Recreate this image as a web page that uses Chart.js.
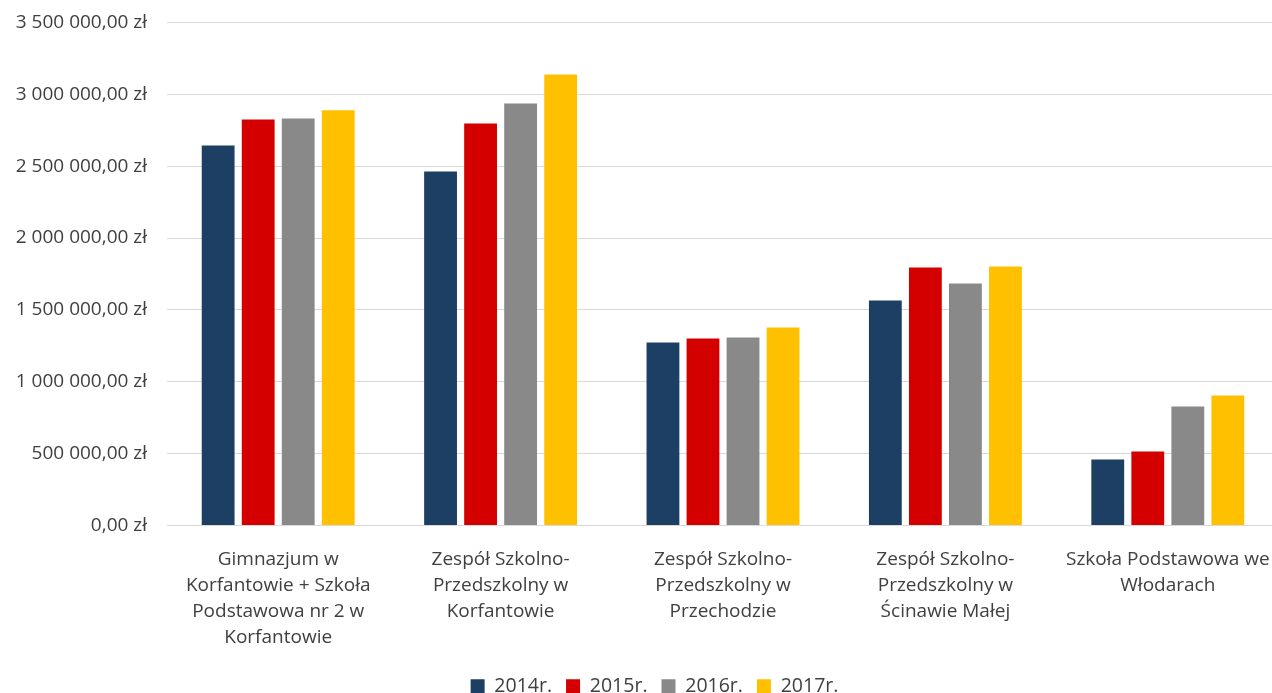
<!DOCTYPE html>
<html>
<head>
<meta charset="utf-8">
<script src="https://cdn.jsdelivr.net/npm/chart.js@4/dist/chart.umd.min.js"></script>
<style>
    html, body { margin: 0; padding: 0; background: #fff; overflow: hidden; }
    #wrap { width: 1308px; height: 715px; margin-top: -9px; position: relative; }
</style>
</head>
<body>
<div id="wrap"><canvas id="budgetChart"></canvas></div>
<script>
    // Dane
    const categories = [
        ['Gimnazjum w', 'Korfantowie + Szkoła', 'Podstawowa nr 2 w', 'Korfantowie'],
        ['Zespół Szkolno-', 'Przedszkolny w', 'Korfantowie'],
        ['Zespół Szkolno-', 'Przedszkolny w', 'Przechodzie'],
        ['Zespół Szkolno-', 'Przedszkolny w', 'Ścinawie Małej'],
        ['Szkoła Podstawowa we', 'Włodarach']
    ];
    const years = ['2014r.', '2015r.', '2016r.', '2017r.'];
    const values2014 = [2644000, 2463000, 1273000, 1566000, 459000];
    const values2015 = [2825000, 2797000, 1301000, 1795000, 515000];
    const values2016 = [2832000, 2936000, 1308000, 1684000, 828000];
    const values2017 = [2888000, 3138000, 1378000, 1802000, 905000];
    const colors = ['#1d3f63', '#d40000', '#898989', '#ffc000'];

    function formatZl(v) {
        let s = Math.round(v).toString().replace(/\B(?=(\d{3})+(?!\d))/g, ' ');
        return s + ',00 zł';
    }

    const textColor = '#404040';
    const fontFamily = '"Open Sans", sans-serif';

    // legenda wycentrowana na całej szerokości wykresu (jak w Excelu)
    const shiftLegend = {
        id: 'shiftLegend',
        afterLayout(chart) {
            chart.legend.left += 15;
            chart.legend.right += 15;
        }
    };

    let ctx = document.getElementById('budgetChart');

    let budgetChart = new Chart(ctx, {
        type: 'bar',
        data: {
            labels: categories,
            datasets: [values2014, values2015, values2016, values2017].map((vals, i) => ({
                label: years[i],
                data: vals,
                backgroundColor: colors[i],
                categoryPercentage: 0.72,
                barPercentage: 0.82
            }))
        },
        options: {
            responsive: true,
            maintainAspectRatio: false,
            animation: false,
            layout: {
                padding: { top: 0, right: 29, left: 0, bottom: 0 }
            },
            plugins: {
                tooltip: { enabled: false },
                legend: {
                    position: 'bottom',
                    labels: {
                        boxWidth: 14,
                        boxHeight: 14,
                        padding: 14,
                        color: textColor,
                        font: { family: fontFamily, size: 19.5 }
                    }
                }
            },
            scales: {
                x: {
                    grid: { display: false },
                    border: { display: false },
                    ticks: {
                        color: textColor,
                        autoSkip: false,
                        maxRotation: 0,
                        minRotation: 0,
                        padding: 13,
                        font: { family: fontFamily, size: 19, lineHeight: '26px' }
                    },
                    afterFit: function (scale) {
                        scale.height = 137;
                    }
                },
                y: {
                    min: 0,
                    max: 3500000,
                    grid: { color: '#d9d9d9', lineWidth: 1, drawTicks: false },
                    border: { display: false },
                    ticks: {
                        stepSize: 500000,
                        color: textColor,
                        padding: 20,
                        font: { family: fontFamily, size: 19 },
                        callback: function (value) { return formatZl(value); }
                    },
                    afterFit: function (scale) {
                        scale.width = 167;
                    }
                }
            }
        },
        plugins: [shiftLegend]
    });
</script>
</body>
</html>
